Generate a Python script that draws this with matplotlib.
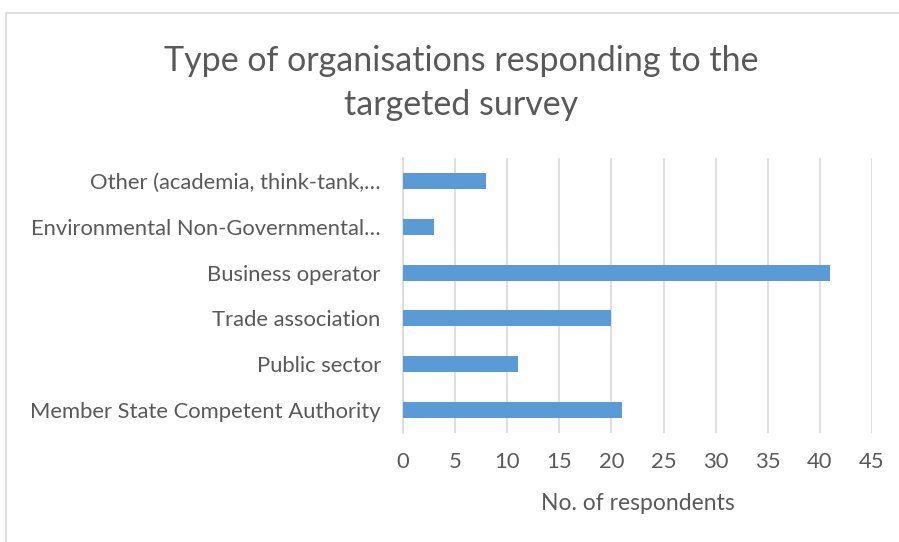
import matplotlib.pyplot as plt
from matplotlib.patches import Rectangle

categories = [
    'Member State Competent Authority',
    'Public sector',
    'Trade association',
    'Business operator',
    'Environmental Non-Governmental…',
    'Other (academia, think-tank,…',
]
respondents = [21, 11, 20, 41, 3, 8]
x_ticks = [0, 5, 10, 15, 20, 25, 30, 35, 40, 45]

plt.rcParams['font.family'] = ['Lato', 'DejaVu Sans']
text_color = '#595959'

fig = plt.figure(figsize=(8.99, 5.42), dpi=100)
fig.patches.append(Rectangle((6 / 899, -0.01), 1.0, 1 - 13 / 542 + 0.01,
                             transform=fig.transFigure, fill=False,
                             edgecolor='#D9D9D9', linewidth=1.2))

ax = fig.add_axes([403 / 899, 1 - 433 / 542, 469 / 899, 275 / 542])
ax.barh(range(len(categories)), respondents, height=0.35, color='#5B9BD5', zorder=3)
ax.set_xlim(0, 45)
ax.set_ylim(-0.5, len(categories) - 0.5)
ax.set_xticks(x_ticks)
ax.set_yticks(range(len(categories)))
ax.set_yticklabels(categories)
ax.grid(axis='x', color='#D9D9D9', linewidth=1.2, zorder=0)
for s in ['top', 'right', 'bottom']:
    ax.spines[s].set_visible(False)
ax.spines['left'].set_color('#D9D9D9')
ax.spines['left'].set_linewidth(1.2)
ax.tick_params(axis='both', length=0, labelsize=15.8, colors=text_color)
ax.tick_params(axis='y', pad=16)
ax.tick_params(axis='x', pad=14)
ax.set_xlabel('No. of respondents', fontsize=16.5, color=text_color, labelpad=15)

fig.text(461 / 899, 1 - 83 / 542, 'Type of organisations responding to the\ntargeted survey',
         ha='center', va='center', fontsize=24.5, color=text_color, linespacing=1.45)

plt.savefig('out.png', dpi=100)
